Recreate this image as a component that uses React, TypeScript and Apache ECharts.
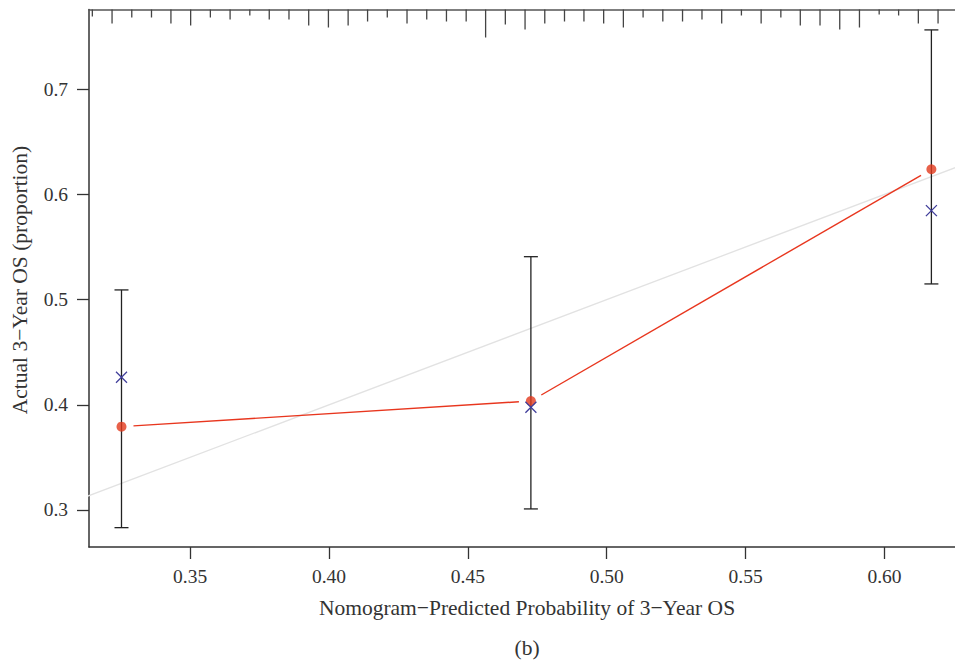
import React, { useEffect, useRef } from "react";
import * as echarts from "echarts";

// Calibration groups (x = nomogram-predicted, y = observed)
const predicted = [0.3253, 0.4727, 0.6169];
const observed = [0.3792, 0.4036, 0.6239];
const biasCorrected = [0.4262, 0.3976, 0.5846];
const ciLower = [0.2832, 0.301, 0.5149];
const ciUpper = [0.5092, 0.5408, 0.7564];

// Rug of predicted probabilities (top of plot) and relative frequencies
const rugX = [
  0.3148, 0.3219, 0.329, 0.3361, 0.3431, 0.3502, 0.3573, 0.3644, 0.3715, 0.3785,
  0.3856, 0.3927, 0.3998, 0.4069, 0.4139, 0.421, 0.4281, 0.4352, 0.4423, 0.4494,
  0.4564, 0.4635, 0.4706, 0.4777, 0.4848, 0.4918, 0.4989, 0.506, 0.5131, 0.5202,
  0.5273, 0.5343, 0.5414, 0.5485, 0.5556, 0.5627, 0.5697, 0.5768, 0.5839, 0.591,
  0.5981, 0.6051, 0.6122, 0.6193,
];
const rugFreq = [
  7, 14, 8, 8, 14, 16, 8, 10, 6, 10, 10, 16, 18, 16, 12, 8, 14, 10, 12, 12, 28, 15,
  20, 14, 12, 12, 14, 18, 8, 12, 12, 10, 14, 6, 14, 8, 16, 16, 20, 18, 5, 6, 14, 14,
];

const xTicks = [0.35, 0.4, 0.45, 0.5, 0.55, 0.6];
const yTicks = [0.3, 0.4, 0.5, 0.6, 0.7];
const idealLine = [0, 1];

const X_MIN = 0.3136;
const X_MAX = 0.6254;
const Y_MIN = 0.2648;
const Y_MAX = 0.7758;

const FONT = "'Liberation Serif', 'DejaVu Serif', serif";

export default function App() {
  const ref = useRef<HTMLDivElement>(null);
  useEffect(() => {
    if (!ref.current) return;
    const chart = echarts.init(ref.current, undefined, { renderer: "svg" });
    const axisColor = "#333";
    const option: any = {
      animation: false,
      backgroundColor: "#fff",
      grid: { left: 89, right: 0, top: 9.5, bottom: 116, containLabel: false },
      xAxis: [
        {
          type: "value",
          min: X_MIN,
          max: X_MAX,
          position: "bottom",
          splitLine: { show: false },
          axisLine: { show: true, onZero: false, lineStyle: { color: axisColor, width: 1.5 } },
          axisTick: {
            show: true,
            length: 12,
            customValues: xTicks,
            lineStyle: { color: axisColor, width: 1.3 },
          },
          axisLabel: {
            customValues: xTicks,
            formatter: (v: number) => v.toFixed(2),
            fontFamily: FONT,
            fontSize: 19.5,
            color: "#333",
            margin: 19,
          },
        },
        {
          type: "value",
          min: X_MIN,
          max: X_MAX,
          position: "top",
          splitLine: { show: false },
          axisLine: { show: true, onZero: false, lineStyle: { color: "#555", width: 1.5 } },
          axisTick: { show: false },
          axisLabel: { show: false },
        },
      ],
      yAxis: {
        type: "value",
        min: Y_MIN,
        max: Y_MAX,
        splitLine: { show: false },
        axisLine: { show: true, onZero: false, lineStyle: { color: axisColor, width: 1.5 } },
        axisTick: {
          show: true,
          length: 12,
          customValues: yTicks,
          lineStyle: { color: axisColor, width: 1.3 },
        },
        axisLabel: {
          customValues: yTicks,
          formatter: (v: number) => v.toFixed(1),
          fontFamily: FONT,
          fontSize: 19.5,
          color: "#333",
          margin: 21,
        },
      },
      graphic: [
        {
          type: "text",
          x: 20,
          y: 280,
          rotation: Math.PI / 2,
          style: {
            text: "Actual 3\u2212Year OS (proportion)",
            font: `21.5px ${FONT}`,
            fill: "#333",
            textAlign: "center",
            textVerticalAlign: "middle",
          },
        },
        {
          type: "text",
          x: 527,
          y: 608,
          style: {
            text: "Nomogram\u2212Predicted Probability of 3\u2212Year OS",
            font: `21.5px ${FONT}`,
            fill: "#333",
            textAlign: "center",
            textVerticalAlign: "middle",
          },
        },
        {
          type: "text",
          x: 527,
          y: 648,
          style: {
            text: "(b)",
            font: `21.5px ${FONT}`,
            fill: "#333",
            textAlign: "center",
            textVerticalAlign: "middle",
          },
        },
      ],
      series: [
        {
          type: "line",
          data: idealLine.map((v) => [v, v]),
          symbol: "none",
          clip: true,
          lineStyle: { color: "#e2e2e2", width: 1.3 },
          z: 1,
        },
        {
          type: "custom",
          data: rugX.map((x, i) => [x, rugFreq[i]]),
          clip: false,
          renderItem: (params: any, api: any) => {
            const p = api.coord([api.value(0), Y_MAX]);
            const top = params.coordSys.y;
            return {
              type: "line",
              shape: { x1: p[0], y1: top, x2: p[0], y2: top + api.value(1) },
              style: { stroke: "#444", lineWidth: 1.3 },
            };
          },
          z: 3,
        },
        {
          type: "custom",
          data: predicted.map((x, i) => [x, ciLower[i], ciUpper[i]]),
          renderItem: (params: any, api: any) => {
            const lo = api.coord([api.value(0), api.value(1)]);
            const hi = api.coord([api.value(0), api.value(2)]);
            const cap = 7;
            const st = { stroke: "#222", lineWidth: 1.3 };
            return {
              type: "group",
              children: [
                { type: "line", shape: { x1: lo[0], y1: lo[1], x2: hi[0], y2: hi[1] }, style: st },
                { type: "line", shape: { x1: lo[0] - cap, y1: lo[1], x2: lo[0] + cap, y2: lo[1] }, style: st },
                { type: "line", shape: { x1: hi[0] - cap, y1: hi[1], x2: hi[0] + cap, y2: hi[1] }, style: st },
              ],
            };
          },
          z: 2,
        },
        {
          type: "custom",
          data: predicted.slice(0, -1).map((x, i) => [x, observed[i], predicted[i + 1], observed[i + 1]]),
          renderItem: (params: any, api: any) => {
            const a = api.coord([api.value(0), api.value(1)]);
            const b = api.coord([api.value(2), api.value(3)]);
            const dx = b[0] - a[0];
            const dy = b[1] - a[1];
            const len = Math.sqrt(dx * dx + dy * dy);
            const gap = 12;
            const ux = dx / len;
            const uy = dy / len;
            return {
              type: "line",
              shape: {
                x1: a[0] + ux * gap,
                y1: a[1] + uy * gap,
                x2: b[0] - ux * gap,
                y2: b[1] - uy * gap,
              },
              style: { stroke: "#e8361e", lineWidth: 1.4 },
            };
          },
          z: 4,
        },
        {
          type: "scatter",
          data: predicted.map((x, i) => [x, observed[i]]),
          symbol: "circle",
          symbolSize: 10,
          itemStyle: { color: "#e2391d" },
          z: 5,
        },
        {
          type: "custom",
          data: predicted.map((x, i) => [x, biasCorrected[i]]),
          renderItem: (params: any, api: any) => {
            const c = api.coord([api.value(0), api.value(1)]);
            const s = 5.5;
            const st = { stroke: "#3f3d9a", lineWidth: 1.3 };
            return {
              type: "group",
              children: [
                { type: "line", shape: { x1: c[0] - s, y1: c[1] - s, x2: c[0] + s, y2: c[1] + s }, style: st },
                { type: "line", shape: { x1: c[0] - s, y1: c[1] + s, x2: c[0] + s, y2: c[1] - s }, style: st },
              ],
            };
          },
          z: 6,
        },
      ],
    };
    chart.setOption(option);
    return () => chart.dispose();
  }, []);
  return <div ref={ref} style={{ width: 955, height: 663, position: "absolute", left: 0, top: 0 }} />;
}
